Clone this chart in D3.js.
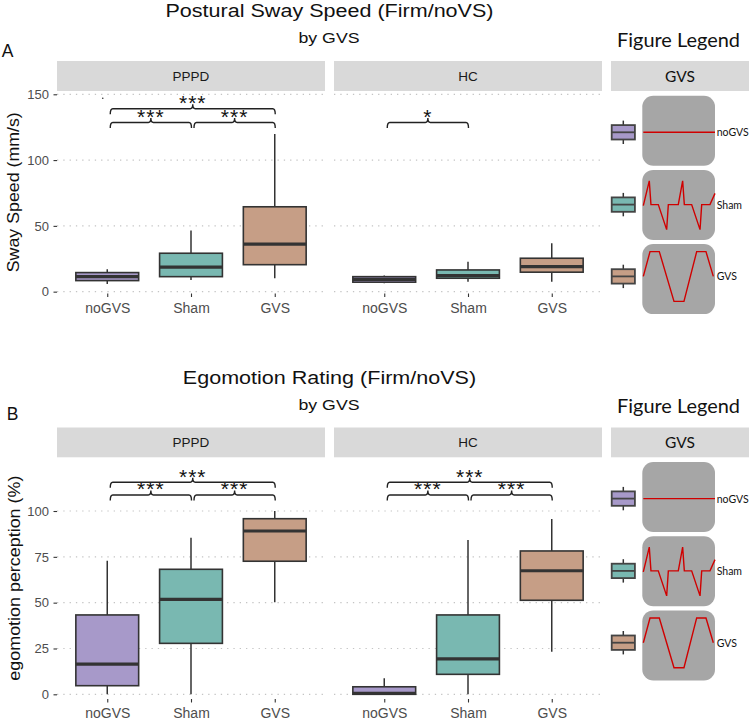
<!DOCTYPE html>
<html><head><meta charset="utf-8">
<script src="https://cdn.jsdelivr.net/npm/d3@7"></script>
<style>body{margin:0;background:#fff} svg{display:block}</style>
</head><body>
<svg id="chart" width="749" height="724"></svg>
<script>
// ---------------- DATA ----------------
const groups = ["PPPD", "HC"];
const conditions = ["noGVS", "Sham", "GVS"];
// each row: [lower whisker, Q1, median, Q3, upper whisker]
const swayPPPD = [[5.9, 8.4, 11.4, 14.5, 17.0], [8.9, 11.4, 18.6, 29.2, 46.4], [10.2, 20.5, 36.1, 64.5, 119.8]];
const swayHC   = [[6.4, 7.2, 9.3, 11.4, 12.2], [7.6, 10.2, 12.2, 16.5, 22.8], [7.6, 14.8, 19.0, 25.4, 36.8]];
const swayOutliers = [{ group: "PPPD", condition: "noGVS", value: 147 }];
const egoPPPD = [[0, 4.7, 16.5, 43.3, 72.9], [0, 27.8, 51.8, 68.2, 85.4], [50.2, 72.6, 89.1, 95.8, 100]];
const egoHC   = [[0, 0, 0.5, 4.1, 8.7], [0, 10.9, 19.3, 43.3, 84.2], [23.2, 51.3, 67.4, 78.2, 95.6]];
const egoOutliers = [];
const swayTicks = [0, 50, 100, 150];
const egoTicks = [0, 25, 50, 75, 100];
const swayBrackets = [
  { group: "PPPD", from: "noGVS", to: "Sham", y: 128.6, label: "***" },
  { group: "PPPD", from: "Sham", to: "GVS", y: 128.6, label: "***" },
  { group: "PPPD", from: "noGVS", to: "GVS", y: 139.0, label: "***" },
  { group: "HC", from: "noGVS", to: "Sham", y: 128.6, label: "*" }
];
const egoBrackets = [
  { group: "PPPD", from: "noGVS", to: "Sham", y: 108.7, label: "***" },
  { group: "PPPD", from: "Sham", to: "GVS", y: 108.7, label: "***" },
  { group: "PPPD", from: "noGVS", to: "GVS", y: 115.7, label: "***" },
  { group: "HC", from: "noGVS", to: "Sham", y: 108.7, label: "***" },
  { group: "HC", from: "Sham", to: "GVS", y: 108.7, label: "***" },
  { group: "HC", from: "noGVS", to: "GVS", y: 115.7, label: "***" }
];
// legend stimulus waveforms (normalized time 0..1, amplitude -1..1)
const waveNoGVS = [[0.014, 0], [1, 0]];
const waveSham = [[0.014, -0.04], [0.096, 0.95], [0.119, 0], [0.22, 0], [0.335, -1], [0.358, 0], [0.495, 0],
                  [0.555, 0.95], [0.578, 0], [0.679, 0], [0.794, -1], [0.817, 0], [0.931, 0], [1.0, 0.45]];
const waveGVS = [[0.014, 0], [0.106, 0.99], [0.234, 0.99], [0.436, -1], [0.573, -1], [0.748, 0.99], [0.876, 0.99], [0.977, 0]];
const legendWaves = [waveNoGVS, waveSham, waveGVS];

// ---------------- STYLE / LAYOUT ----------------
const FONT = "'Liberation Sans', Arial, Helvetica, sans-serif";
const LFONT = "Lato, 'Open Sans', sans-serif";
const fillColor = d3.scaleOrdinal().domain(conditions).range(["#a799c9", "#79b8b1", "#c69e86"]);
const panelX = { PPPD: [57, 325], HC: [334, 602] };
const svg = d3.select("#chart");

function drawRow(o) {
  const g0 = svg.append("g");
  // titles
  g0.append("text").attr("x", 329.5).attr("y", o.titleY).attr("text-anchor", "middle")
    .attr("font-family", FONT).attr("font-size", 17.5).attr("fill", "#111")
    .attr("textLength", o.titleLen).attr("lengthAdjust", "spacingAndGlyphs").text(o.title);
  g0.append("text").attr("x", 329).attr("y", o.subY).attr("text-anchor", "middle")
    .attr("font-family", FONT).attr("font-size", 15).attr("fill", "#111")
    .attr("textLength", 61).attr("lengthAdjust", "spacingAndGlyphs").text("by GVS");
  g0.append("text").attr("x", o.tagX).attr("y", o.tagY).attr("font-family", FONT)
    .attr("font-size", 17.5).attr("fill", "#111").text(o.tag);

  const panelTop = o.stripTop + o.stripH;
  const y = d3.scaleLinear().domain(o.yDomain).range([o.bottom, panelTop]);

  // y-axis label
  g0.append("text").attr("transform", `translate(${o.ylabX},${(panelTop + o.bottom) / 2}) rotate(-90)`)
    .attr("text-anchor", "middle").attr("font-family", FONT).attr("font-size", 17).attr("fill", "#111")
    .attr("textLength", o.ylabLen).attr("lengthAdjust", "spacingAndGlyphs").text(o.ylab);

  groups.forEach((grp, gi) => {
    const [x0, x1] = panelX[grp];
    const x = d3.scalePoint().domain(conditions).range([x0, x1]).padding(0.6);
    const bw = x.step() * 0.75;
    const g = svg.append("g");
    // strip
    g.append("rect").attr("x", x0).attr("y", o.stripTop).attr("width", x1 - x0).attr("height", o.stripH).attr("fill", "#d9d9d9");
    g.append("text").attr("x", (x0 + x1) / 2).attr("y", o.stripTop + o.stripH / 2 + 5).attr("text-anchor", "middle")
      .attr("font-family", FONT).attr("font-size", 13.5).attr("fill", "#1a1a1a").text(grp);
    // grid
    g.selectAll("line.grid").data(o.ticks).join("line").attr("class", "grid")
      .attr("x1", x0).attr("x2", x1).attr("y1", d => y(d)).attr("y2", d => y(d))
      .attr("stroke", "#c4c4c4").attr("stroke-width", 1.2).attr("stroke-dasharray", "1.3,5");
    // x axis
    const xa = g.append("g").attr("transform", `translate(0,${o.bottom})`)
      .call(d3.axisBottom(x).tickSize(3.5).tickPadding(6));
    xa.select(".domain").remove();
    xa.selectAll("line").attr("stroke", "#333").attr("stroke-width", 1.1);
    xa.selectAll("text").attr("font-family", FONT).attr("font-size", 14).attr("fill", "#4d4d4d");
    // y axis
    if (gi === 0) {
      const ya = g.append("g").attr("transform", `translate(${x0},0)`)
        .call(d3.axisLeft(y).tickValues(o.ticks).tickSize(3.5).tickPadding(4.5));
      ya.select(".domain").remove();
      ya.selectAll("line").attr("stroke", "#333").attr("stroke-width", 1.1);
      ya.selectAll("text").attr("font-family", FONT).attr("font-size", 13).attr("fill", "#4d4d4d");
    }
    // boxes
    const stats = o.stats[grp];
    conditions.forEach((c, i) => {
      const [lo, q1, med, q3, hi] = stats[i];
      const cx = x(c);
      const bg = g.append("g");
      bg.append("line").attr("x1", cx).attr("x2", cx).attr("y1", y(hi)).attr("y2", y(q3)).attr("stroke", "#333").attr("stroke-width", 1.5);
      bg.append("line").attr("x1", cx).attr("x2", cx).attr("y1", y(q1)).attr("y2", y(lo)).attr("stroke", "#333").attr("stroke-width", 1.5);
      bg.append("rect").attr("x", cx - bw / 2).attr("width", bw).attr("y", y(q3)).attr("height", Math.max(0.5, y(q1) - y(q3)))
        .attr("fill", fillColor(c)).attr("stroke", "#333").attr("stroke-width", 1.6);
      bg.append("line").attr("x1", cx - bw / 2).attr("x2", cx + bw / 2).attr("y1", y(med)).attr("y2", y(med))
        .attr("stroke", "#333").attr("stroke-width", 3.2);
    });
    o.outliers.filter(d => d.group === grp).forEach(d => {
      g.append("circle").attr("cx", x(d.condition) - 4.5).attr("cy", y(d.value)).attr("r", 0.8).attr("fill", "#333");
    });
    // brackets
    o.brackets.filter(b => b.group === grp).forEach(b => {
      const bx1 = x(b.from) + 3, bx2 = x(b.to) + 0.5, by = y(b.y), bxc = (bx1 + bx2) / 2;
      const p = d3.path();
      p.moveTo(bx1, by + 5.5);
      p.quadraticCurveTo(bx1, by, bx1 + 2.5, by);
      p.lineTo(bxc - 2.5, by);
      p.quadraticCurveTo(bxc, by, bxc, by - 4.5);
      p.quadraticCurveTo(bxc, by, bxc + 2.5, by);
      p.lineTo(bx2 - 2.5, by);
      p.quadraticCurveTo(bx2, by, bx2, by + 5.5);
      g.append("path").attr("d", p.toString()).attr("fill", "none").attr("stroke", "#222").attr("stroke-width", 1.4);
      g.append("text").attr("x", bxc).attr("y", by + 1.3).attr("text-anchor", "middle")
        .attr("font-family", FONT).attr("font-size", 21).attr("letter-spacing", 1).attr("fill", "#111").text(b.label);
    });
  });

  // figure legend
  const lg = svg.append("g");
  lg.append("text").attr("x", 678.5).attr("y", o.stripTop - 14.5).attr("text-anchor", "middle")
    .attr("font-family", LFONT).attr("font-size", 19).attr("fill", "#111")
    .attr("textLength", 123).attr("lengthAdjust", "spacingAndGlyphs").text("Figure Legend");
  lg.append("rect").attr("x", 611).attr("y", o.stripTop).attr("width", 138).attr("height", o.stripH).attr("fill", "#d9d9d9");
  lg.append("text").attr("x", 680).attr("y", o.stripTop + 20.7).attr("text-anchor", "middle")
    .attr("font-family", LFONT).attr("font-size", 15.5).attr("fill", "#111").text("GVS");
  const centerOff = [36.6, 34.7, 32.3];
  conditions.forEach((c, i) => {
    const rt = panelTop + 4.7 + i * 74.2;
    const rx = 642.3, rw = 72.7;
    lg.append("rect").attr("x", rx).attr("y", rt).attr("width", rw).attr("height", 70).attr("rx", 11)
      .attr("fill", "#a6a6a6");
    const cy = rt + centerOff[i];
    const wx = d3.scaleLinear().domain([0, 1]).range([rx, rx + rw]);
    const wy = d3.scaleLinear().domain([-1, 1]).range([cy + 25, cy - 25]);
    lg.append("path").attr("d", d3.line().x(d => wx(d[0])).y(d => wy(d[1]))(legendWaves[i]))
      .attr("fill", "none").attr("stroke", "#d00000").attr("stroke-width", 1.4).attr("stroke-linejoin", "miter");
    lg.append("text").attr("x", 716.7).attr("y", cy + 4).attr("font-family", LFONT).attr("font-size", 10.5)
      .attr("fill", "#111").text(c);
    // boxplot icon
    const ix = 623.3;
    lg.append("line").attr("x1", ix).attr("x2", ix).attr("y1", cy - 11.7).attr("y2", cy + 11.7).attr("stroke", "#333").attr("stroke-width", 1.5);
    lg.append("rect").attr("x", ix - 11.6).attr("y", cy - 7.2).attr("width", 23.2).attr("height", 14.4)
      .attr("fill", fillColor(c)).attr("stroke", "#444").attr("stroke-width", 1.8);
    lg.append("line").attr("x1", ix - 11.6).attr("x2", ix + 11.6).attr("y1", cy).attr("y2", cy).attr("stroke", "#444").attr("stroke-width", 1.8);
  });
}

drawRow({
  title: "Postural Sway Speed (Firm/noVS)", titleY: 16.5, titleLen: 328, subY: 42.5, tag: "A", tagX: 1.7, tagY: 57.3,
  stripTop: 61, stripH: 30, bottom: 293.5, yDomain: [-1.4, 152.5], ticks: swayTicks,
  stats: { PPPD: swayPPPD, HC: swayHC }, outliers: swayOutliers, brackets: swayBrackets,
  ylab: "Sway Speed (mm/s)", ylabX: 19, ylabLen: 160
});
drawRow({
  title: "Egomotion Rating (Firm/noVS)", titleY: 383.5, titleLen: 293.3, subY: 410.3, tag: "B", tagX: 6.7, tagY: 420,
  stripTop: 427.5, stripH: 29.8, bottom: 699, yDomain: [-2.56, 129.3], ticks: egoTicks,
  stats: { PPPD: egoPPPD, HC: egoHC }, outliers: egoOutliers, brackets: egoBrackets,
  ylab: "egomotion perception (%)", ylabX: 20, ylabLen: 205
});
</script>
</body></html>
